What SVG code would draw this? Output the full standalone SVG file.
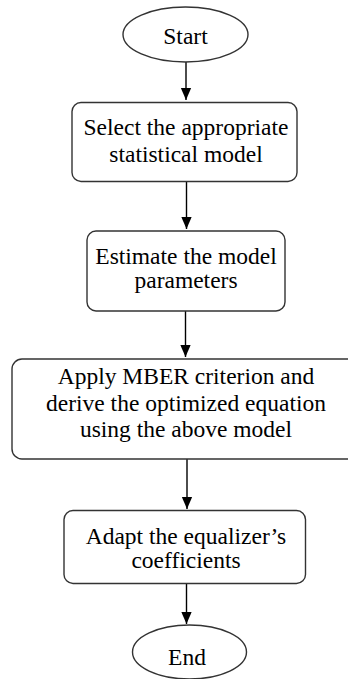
<svg xmlns="http://www.w3.org/2000/svg" width="348" height="679" viewBox="0 0 348 679">
<style>
.n{fill:#fff;stroke:#333;stroke-width:1.4}
.t{font-family:"Liberation Serif","Times New Roman",serif;font-size:23.5px;fill:#000;text-anchor:middle}
.c{stroke:#000;stroke-width:1.4;fill:none}
</style>
<defs>
<marker id="ah" markerUnits="userSpaceOnUse" markerWidth="12" markerHeight="14" refX="14" refY="6" viewBox="0 0 14 12" orient="auto">
<path d="M0,0 L14,6 L0,12 Z" fill="#000"/>
</marker>
</defs>
<rect width="348" height="679" fill="#fff"/>
<g id="connectors">
<line class="c" x1="186" y1="62" x2="186" y2="100" marker-end="url(#ah)"/>
<line class="c" x1="186.5" y1="182" x2="186.5" y2="229" marker-end="url(#ah)"/>
<line class="c" x1="185.5" y1="311" x2="185.5" y2="357" marker-end="url(#ah)"/>
<line class="c" x1="187" y1="459" x2="187" y2="509" marker-end="url(#ah)"/>
<line class="c" x1="186.5" y1="584" x2="186.5" y2="624" marker-end="url(#ah)"/>
</g>
<g id="start">
<ellipse class="n" cx="185.5" cy="34.5" rx="62.5" ry="27.5"/>
<text class="t" x="185.5" y="43.5">Start</text>
</g>
<g id="select">
<rect class="n" x="72" y="102.5" width="225" height="79" rx="9"/>
<text class="t" x="186" y="135">Select the appropriate</text>
<text class="t" x="186" y="161.5">statistical model</text>
</g>
<g id="estimate">
<rect class="n" x="87" y="231" width="198" height="80" rx="9"/>
<text class="t" x="186" y="263.5">Estimate the model</text>
<text class="t" x="186" y="288">parameters</text>
</g>
<g id="apply">
<rect class="n" x="12" y="359" width="345" height="100" rx="10"/>
<text class="t" x="186" y="384">Apply MBER criterion and</text>
<text class="t" x="186" y="410.5">derive the optimized equation</text>
<text class="t" x="186" y="437">using the above model</text>
</g>
<g id="adapt">
<rect class="n" x="64" y="510.5" width="241.5" height="73" rx="9"/>
<text class="t" x="186" y="543.5">Adapt the equalizer’s</text>
<text class="t" x="186" y="567.5">coefficients</text>
</g>
<g id="end">
<ellipse class="n" cx="189.5" cy="652" rx="57" ry="27"/>
<text class="t" x="187" y="665">End</text>
</g>
</svg>
